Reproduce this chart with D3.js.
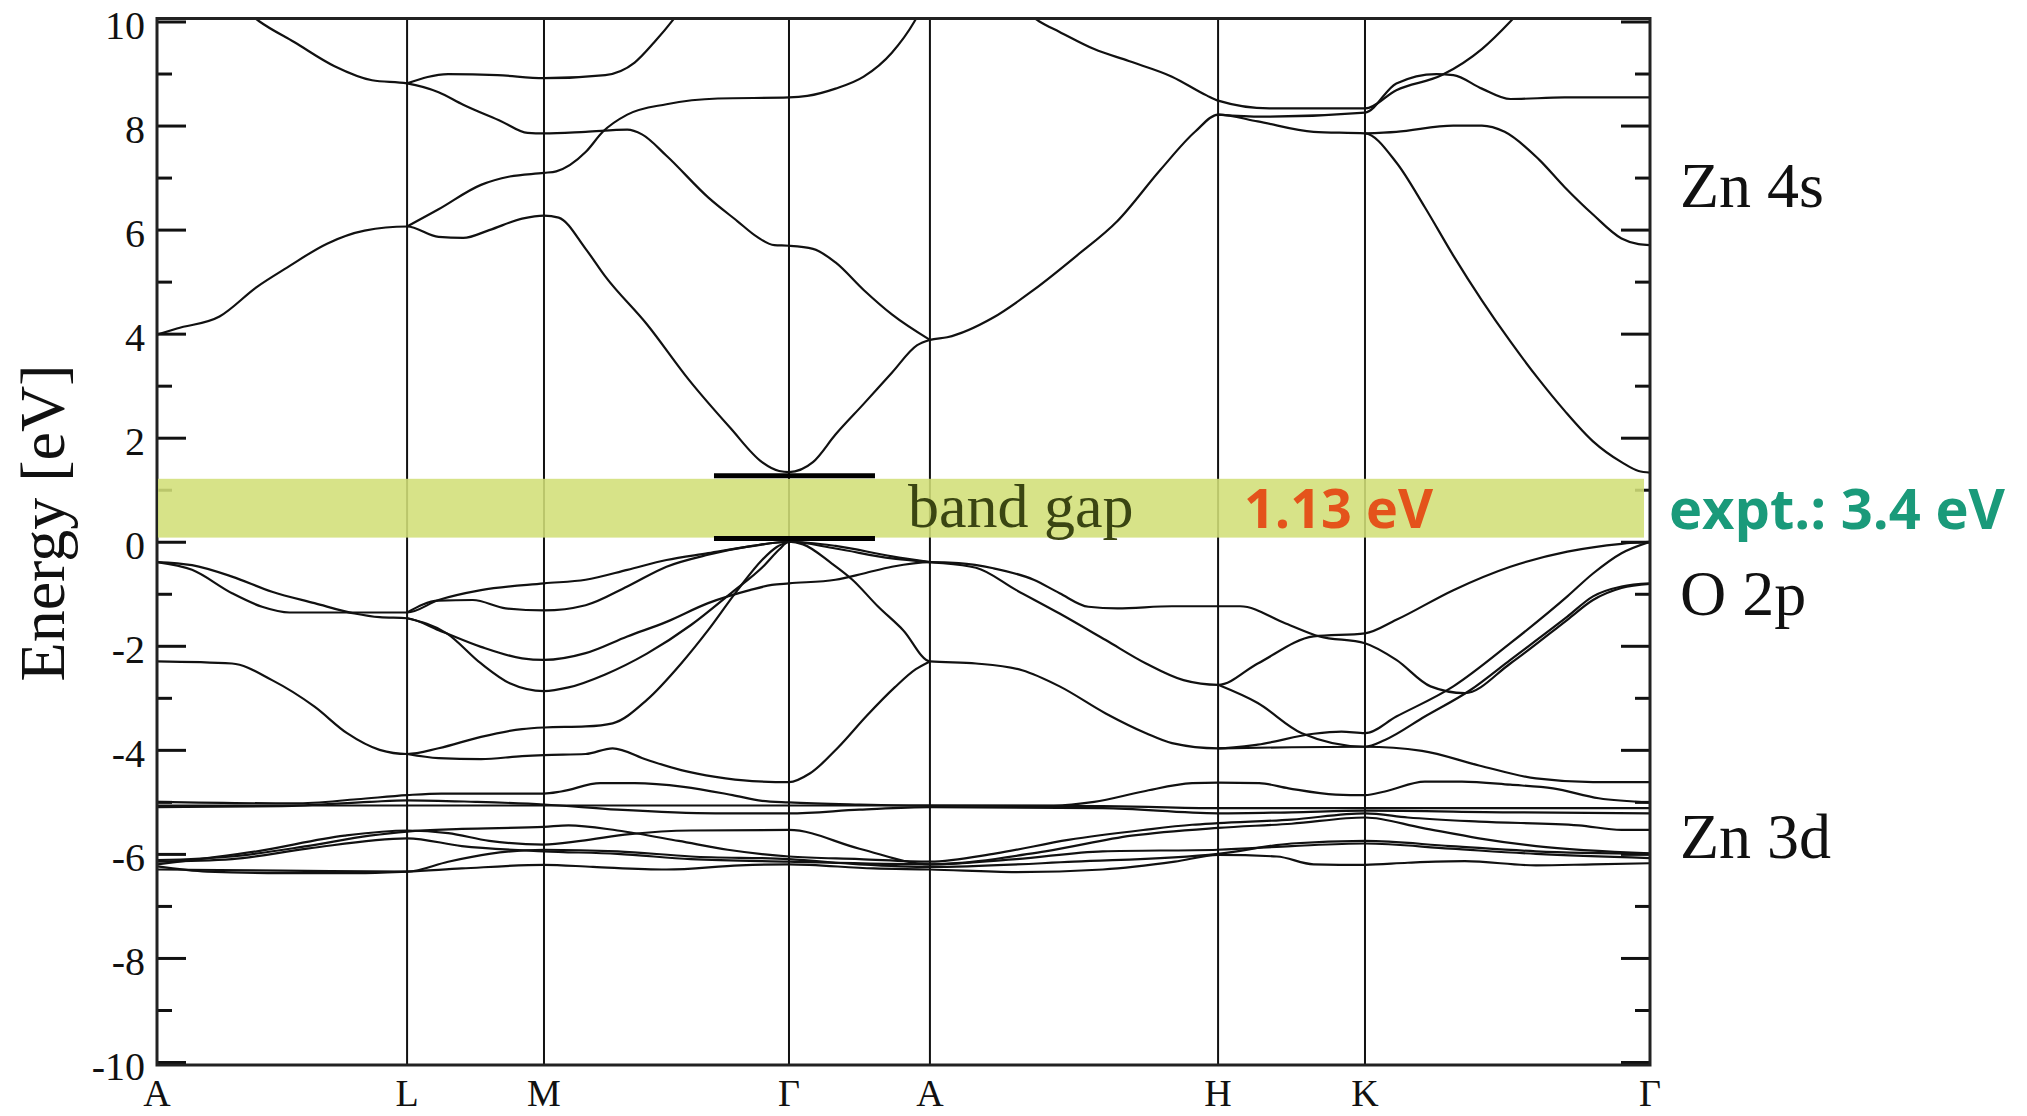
<!DOCTYPE html>
<html>
<head>
<meta charset="utf-8">
<script src="https://cdn.jsdelivr.net/npm/d3@7"></script>
<style>
  html, body { margin: 0; padding: 0; background: #fff; }
  svg { display: block; }
</style>
</head>
<body>
<svg id="chart" width="2027" height="1116"></svg>
<script>
// ---- path through the Brillouin zone -------------------------------------
const kLabels   = ["A", "L", "M", "Γ", "A", "H", "K", "Γ"];
// cumulative path length at each high-symmetry point (normalised)
const kDistance = [0, 0.1675, 0.2592, 0.4233, 0.5177, 0.7107, 0.8091, 1.0];

// ---- energy axis -----------------------------------------------------------
const energyTicks = [-10, -8, -6, -4, -2, 0, 2, 4, 6, 8, 10];
const minorTicks  = [-9, -7, -5, -3, -1, 1, 3, 5, 7, 9];

// ---- band gap annotation ---------------------------------------------------
const gapBase  = 0.08;   // eV, lower edge of the gap marker
const bandGap  = 1.13;   // eV, calculated
const exptGap  = 3.4;    // eV, experiment

// ---- orbital character labels ----------------------------------------------
const orbitalLabels = [
  { text: "Zn 4s", energy: 6.86 },
  { text: "O 2p",  energy: -0.98 },
  { text: "Zn 3d", energy: -5.65 }
];

// Band points: [path coordinate, energy in eV]; the path coordinate is the
// segment index plus the fraction along that segment (0 = A, 1 = L, 2 = M ...)
const conductionBands = [
  [[0,3.98],[0.08,4.1],[0.25,4.33],[0.4,4.9],[0.52,5.27],[0.68,5.73],[0.83,5.98],[1,6.06],
   [1.23,5.86],[1.41,5.84],[1.6,5.99],[1.84,6.21],[2,6.27],[2.06,6.23],[2.17,5.63],[2.25,5.1],
   [2.42,4.18],[2.59,3.12],[2.76,2.19],[2.89,1.53],[2.96,1.36],[3,1.34],[3.17,1.53],[3.33,2.06],
   [3.53,2.65],[3.73,3.25],[3.91,3.78],[4,3.88],[4.06,3.93],[4.22,4.31],[4.36,4.84],[4.51,5.5],
   [4.65,6.16],[4.8,7.15],[4.92,7.88],[5,8.21],[5.27,8.08],[5.65,7.88],[6,7.85],[6.11,7.29],
   [6.21,6.43],[6.31,5.5],[6.41,4.64],[6.51,3.85],[6.61,3.12],[6.7,2.52],[6.8,1.93],[6.9,1.53],
   [6.96,1.36],[7,1.33]],
  [[1,6.06],[1.23,6.39],[1.54,6.86],[1.75,7.02],[2,7.09],[2.05,7.12],[2.17,7.49],[2.24,7.88],
   [2.34,8.21],[2.5,8.41],[2.71,8.52],[3,8.54],[3.13,8.57],[3.33,8.71],[3.53,8.94],[3.73,9.4],
   [3.89,10.0],[3.95,10.3]],
  [[0.33,10.3],[0.41,10.0],[0.55,9.6],[0.71,9.14],[0.86,8.87],[1,8.81],[1.23,8.64],[1.41,8.4],
   [1.69,8.08],[1.88,7.86],[2,7.85],[2.17,7.88],[2.34,7.92],[2.4,7.83],[2.5,7.42],[2.67,6.62],
   [2.79,6.16],[2.87,5.86],[2.94,5.7],[3,5.69],[3.17,5.63],[3.33,5.37],[3.53,4.84],[3.73,4.37],
   [4,3.88]],
  [[4.3,10.35],[4.38,10.0],[4.45,9.8],[4.57,9.47],[4.69,9.24],[4.84,8.94],[4.96,8.58],[5,8.48],
   [5.35,8.33],[6,8.33],[6.11,8.68],[6.27,8.97],[6.41,9.47],[6.51,10.0],[6.56,10.3]],
  [[5,8.21],[5.3,8.17],[6,8.25],[6.11,8.81],[6.25,8.99],[6.31,8.97],[6.41,8.71],[6.51,8.51],
   [6.7,8.54],[7,8.54]],
  [[6,7.85],[6.11,7.88],[6.31,8.0],[6.41,8.0],[6.49,7.88],[6.61,7.35],[6.7,6.82],[6.8,6.29],
   [6.9,5.83],[6.96,5.72],[7,5.7]],
  [[1,8.81],[1.3,8.99],[1.66,8.97],[2,8.91],[2.25,8.97],[2.37,9.21],[2.45,9.6],[2.53,10.05],
   [2.57,10.3]]
];

const valenceBands = [
  [[0,-0.39],[0.14,-0.45],[0.3,-0.67],[0.46,-0.96],[0.63,-1.18],[0.79,-1.38],[0.89,-1.45],[1,-1.47],
   [1.23,-1.7],[1.54,-2.02],[1.84,-2.24],[2,-2.27],[2.17,-2.14],[2.34,-1.82],[2.5,-1.54],[2.67,-1.18],
   [2.84,-0.93],[2.93,-0.83],[3,-0.8],[3.33,-0.73],[3.53,-0.61],[3.73,-0.48],[4,-0.39],[4.1,-0.41],
   [4.22,-0.51],[4.36,-0.73],[4.45,-0.99],[4.55,-1.25],[4.65,-1.28],[4.84,-1.24],[5,-1.24],[5.15,-1.24],
   [5.46,-1.57],[5.69,-1.82],[6,-1.95],[6.11,-2.27],[6.23,-2.78],[6.35,-2.91],[6.51,-2.34],[6.71,-1.5],
   [6.8,-1.12],[6.9,-0.89],[7,-0.81]],
  [[0,-0.39],[0.14,-0.54],[0.3,-0.99],[0.42,-1.25],[0.53,-1.36],[0.71,-1.36],[1,-1.36],[1.23,-1.12],
   [1.54,-0.93],[2,-0.8],[2.17,-0.73],[2.34,-0.54],[2.5,-0.35],[2.67,-0.22],[2.84,-0.09],[3,0],
   [3.33,-0.13],[3.73,-0.32],[4,-0.39],[4.16,-0.5],[4.3,-0.93],[4.45,-1.38],[4.61,-1.89],[4.75,-2.34],
   [4.88,-2.66],[5,-2.75],[5.27,-2.34],[5.65,-1.82],[6,-1.76],[6.11,-1.5],[6.31,-0.93],[6.51,-0.48],
   [6.71,-0.19],[6.9,-0.04],[7,0]],
  [[1,-1.36],[1.23,-1.13],[1.48,-1.12],[1.72,-1.28],[2,-1.32],[2.17,-1.22],[2.34,-0.86],[2.5,-0.48],
   [2.67,-0.25],[2.85,-0.08],[3,0],[3.33,-0.08],[3.73,-0.28],[4,-0.39]],
  [[1,-1.47],[1.29,-1.76],[1.54,-2.34],[1.75,-2.72],[2,-2.87],[2.1,-2.8],[2.25,-2.55],[2.42,-2.15],
   [2.6,-1.6],[2.76,-1.0],[2.9,-0.45],[2.96,-0.15],[3,0],[3.1,-0.05],[3.3,-0.41],[3.45,-0.73],
   [3.63,-1.24],[3.81,-1.7],[4,-2.3],[4.16,-2.34],[4.32,-2.47],[4.45,-2.78],[4.61,-3.3],[4.75,-3.68],
   [4.84,-3.87],[5,-3.97],[5.27,-3.9],[5.65,-3.69],[5.84,-3.65],[6,-3.68],[6.11,-3.36],[6.31,-2.78],
   [6.51,-1.95],[6.71,-1.05],[6.8,-0.61],[6.9,-0.22],[7,0]],
  [[0,-2.3],[0.3,-2.34],[0.46,-2.66],[0.63,-3.17],[0.76,-3.68],[0.89,-4.0],[1,-4.08],[1.23,-3.97],
   [1.54,-3.75],[1.84,-3.6],[2,-3.57],[2.17,-3.55],[2.28,-3.49],[2.42,-3.04],[2.56,-2.34],[2.67,-1.7],
   [2.79,-0.93],[2.89,-0.35],[2.95,-0.1],[3,0]],
  [[1,-4.08],[1.23,-4.16],[1.54,-4.18],[1.84,-4.12],[2,-4.1],[2.17,-4.08],[2.28,-3.97],[2.42,-4.19],
   [2.56,-4.39],[2.7,-4.52],[2.85,-4.6],[3,-4.62],[3.15,-4.45],[3.35,-3.95],[3.55,-3.35],[3.75,-2.8],
   [3.9,-2.45],[4,-2.3]],
  [[5,-2.75],[5.27,-3.1],[5.57,-3.68],[6,-3.94],[6.07,-3.81],[6.21,-3.36],[6.37,-2.85],[6.51,-2.27],
   [6.71,-1.44],[6.8,-1.05],[6.9,-0.86],[7,-0.8]],
  [[5,-3.97],[5.5,-3.95],[6,-3.94],[6.2,-4.02],[6.4,-4.3],[6.6,-4.55],[6.8,-4.62],[7,-4.62]]
];

const dBands = [
  [[0,-5.0],[0.55,-5.03],[0.8,-4.95],[1,-4.87],[1.25,-4.84],[2,-4.84],[2.07,-4.8],[2.23,-4.64],
   [2.37,-4.64],[2.57,-4.71],[2.77,-4.87],[2.89,-4.98],[3,-5.01],[3.5,-5.05],[4,-5.07],[4.43,-5.07],
   [4.57,-5.0],[4.74,-4.8],[4.91,-4.64],[5,-4.63],[5.28,-4.64],[5.48,-4.74],[5.8,-4.86],[6,-4.87],
   [6.07,-4.8],[6.21,-4.61],[6.34,-4.61],[6.51,-4.67],[6.66,-4.74],[6.82,-4.93],[7,-5.01]],
  [[0,-5.07],[1,-5.07],[2,-5.07],[3,-5.07],[4,-5.07],[4.6,-5.08],[5,-5.12],[6,-5.12],[7,-5.12]],
  [[0,-5.1],[0.5,-5.08],[0.85,-5.0],[1,-4.97],[1.5,-5.0],[2,-5.05],[2.3,-5.15],[2.7,-5.22],[3,-5.22],
   [3.5,-5.15],[4,-5.1],[4.6,-5.12],[5,-5.22],[5.5,-5.2],[6,-5.17],[6.5,-5.2],[7,-5.22]],
  [[0,-6.12],[0.3,-6.05],[0.6,-5.85],[0.85,-5.65],[1,-5.57],[1.4,-5.52],[2,-5.48],[2.1,-5.45],
   [2.3,-5.55],[2.55,-5.75],[2.75,-5.92],[3,-6.05],[3.5,-6.1],[4,-6.15],[4.23,-5.99],[4.48,-5.73],
   [4.74,-5.54],[4.91,-5.44],[5,-5.41],[5.5,-5.34],[6,-5.22],[6.15,-5.3],[6.4,-5.38],[6.75,-5.45],
   [6.9,-5.54],[7,-5.54]],
  [[0,-6.15],[0.3,-6.1],[0.6,-5.9],[1,-5.7],[1.4,-5.85],[2,-5.95],[2.3,-6.0],[2.6,-6.1],[3,-6.15],
   [4,-6.2],[4.3,-6.1],[4.6,-5.95],[5,-5.92],[5.5,-5.85],[6,-5.8],[6.3,-5.9],[6.6,-6.0],[7,-6.08]],
  [[0,-6.24],[0.2,-6.34],[0.5,-6.37],[0.8,-6.37],[1,-6.34],[1.4,-6.28],[2,-6.21],[2.2,-6.25],
   [2.5,-6.3],[2.8,-6.22],[3,-6.2],[3.6,-6.28],[4,-6.3],[4.3,-6.35],[4.6,-6.3],[4.85,-6.15],[5,-6.02],
   [5.4,-6.05],[5.65,-6.2],[6,-6.21],[6.15,-6.17],[6.35,-6.14],[6.6,-6.22],[6.8,-6.2],[7,-6.18]],
  [[0,-6.2],[0.4,-5.95],[0.75,-5.65],[1,-5.55],[1.3,-5.6],[1.6,-5.75],[2,-5.82],[2.15,-5.75],
   [2.35,-5.62],[2.6,-5.55],[3,-5.54],[3.5,-5.9],[4,-6.2],[4.4,-5.95],[4.7,-5.65],[5,-5.5],[5.5,-5.42],
   [6,-5.3],[6.2,-5.5],[6.4,-5.7],[6.6,-5.85],[7,-5.99]],
  [[0,-6.3],[0.5,-6.32],[1,-6.34],[1.3,-6.15],[1.6,-6.0],[2,-5.92],[2.3,-5.95],[2.6,-6.05],[3,-6.1],
   [3.5,-6.2],[4,-6.25],[4.5,-6.15],[5,-6.0],[5.5,-5.8],[6,-5.75],[6.3,-5.85],[6.6,-5.95],[7,-6.0]]
];

// ---- scales ---------------------------------------------------------------
const svg = d3.select("#chart");
const plot = { left: 157, right: 1650, top: 21.5, bottom: 1062 };

const x = d3.scaleLinear().domain([0, 1]).range([plot.left, plot.right]);
const y = d3.scaleLinear().domain([-10, 10]).range([plot.bottom, plot.top]);
// segment coordinate -> cumulative path length
const pathPos = d3.scaleLinear().domain(d3.range(kDistance.length)).range(kDistance);
const kx = s => x(pathPos(s));

const frameTop = y(10) - 3, frameBottom = y(-10) + 3;

svg.append("rect").attr("width", 2027).attr("height", 1116).attr("fill", "#fff");

svg.append("defs").append("clipPath").attr("id", "plot-clip")
  .append("rect")
  .attr("x", plot.left).attr("y", frameTop)
  .attr("width", plot.right - plot.left).attr("height", frameBottom - frameTop);

// ---- vertical lines at the high-symmetry points ---------------------------
svg.append("g")
  .selectAll("line")
  .data(kDistance.slice(1, -1))
  .join("line")
  .attr("x1", d => x(d)).attr("x2", d => x(d))
  .attr("y1", frameTop).attr("y2", frameBottom)
  .attr("stroke", "#111").attr("stroke-width", 2);

// ---- band structure -------------------------------------------------------
const bandLine = d3.line()
  .x(d => kx(d[0]))
  .y(d => y(d[1]))
  .curve(d3.curveMonotoneX);

svg.append("g")
  .attr("clip-path", "url(#plot-clip)")
  .selectAll("path")
  .data([...conductionBands, ...valenceBands, ...dBands])
  .join("path")
  .attr("d", bandLine)
  .attr("fill", "none")
  .attr("stroke", "#111")
  .attr("stroke-width", 2.2)
  .attr("stroke-linejoin", "round");

// ---- axis ticks (inward, both sides) ---------------------------------------
function ticks(axisFn, values, size, xPos) {
  const g = svg.append("g")
    .attr("transform", `translate(${xPos},0)`)
    .call(axisFn(y).tickValues(values).tickSize(size).tickFormat(""));
  g.select(".domain").remove();
  g.selectAll(".tick line").attr("stroke", "#111").attr("stroke-width", 3);
}
ticks(d3.axisRight, energyTicks, 29, plot.left);
ticks(d3.axisRight, minorTicks, 15, plot.left);
ticks(d3.axisLeft, energyTicks, 29, plot.right);
ticks(d3.axisLeft, minorTicks, 15, plot.right);

// ---- frame -----------------------------------------------------------------
svg.append("rect")
  .attr("x", plot.left).attr("y", frameTop)
  .attr("width", plot.right - plot.left).attr("height", frameBottom - frameTop)
  .attr("fill", "none").attr("stroke", "#222").attr("stroke-width", 3);

// ---- tick labels -----------------------------------------------------------
const serif = "'Liberation Serif', 'Times New Roman', Times, serif";

svg.append("g")
  .selectAll("text")
  .data(energyTicks)
  .join("text")
  .attr("x", plot.left - 12)
  .attr("y", d => y(d) + 17.5)
  .attr("text-anchor", "end")
  .attr("font-family", serif).attr("font-size", 40)
  .attr("fill", "#111")
  .text(d => String(d));

svg.append("g")
  .selectAll("text")
  .data(kLabels)
  .join("text")
  .attr("x", (d, i) => x(kDistance[i]))
  .attr("y", 1106)
  .attr("text-anchor", "middle")
  .attr("font-family", serif).attr("font-size", 38)
  .attr("fill", "#111")
  .text(d => d);

svg.append("text")
  .attr("transform", `translate(64, 523) rotate(-90)`)
  .attr("text-anchor", "middle")
  .attr("font-family", serif).attr("font-size", 64)
  .attr("fill", "#111")
  .text("Energy [eV]");

// ---- orbital character labels ---------------------------------------------
svg.append("g")
  .selectAll("text")
  .data(orbitalLabels)
  .join("text")
  .attr("x", 1680)
  .attr("y", d => y(d.energy) + 22)
  .attr("font-family", serif).attr("font-size", 64)
  .attr("fill", "#111")
  .text(d => d.text);

// ---- band gap marker -------------------------------------------------------
const gapTop = gapBase + bandGap;

svg.append("rect")
  .attr("x", plot.left + 1).attr("y", y(gapTop))
  .attr("width", 1644 - plot.left - 1).attr("height", y(gapBase) - y(gapTop))
  .attr("fill", "#d2df78").attr("opacity", 0.88);

const gammaX = x(kDistance[3]);
svg.append("g")
  .selectAll("line")
  .data([{ e: gapTop, dy: -3 }, { e: gapBase, dy: 1 }])
  .join("line")
  .attr("x1", gammaX - 75).attr("x2", gammaX + 86)
  .attr("y1", d => y(d.e) + d.dy).attr("y2", d => y(d.e) + d.dy)
  .attr("stroke", "#000").attr("stroke-width", 5);

svg.append("text")
  .attr("x", 908).attr("y", y(gapBase) - 11)
  .attr("font-family", serif).attr("font-size", 62)
  .attr("fill", "#3a4512")
  .text("band gap");

const sans = "'Open Sans', 'Noto Sans', sans-serif";
svg.append("text")
  .attr("x", 1244).attr("y", y(gapBase) - 10)
  .attr("font-family", sans).attr("font-weight", 700).attr("font-size", 54)
  .attr("textLength", 189).attr("lengthAdjust", "spacingAndGlyphs")
  .attr("fill", "#e4531b")
  .text(`${bandGap.toFixed(2)} eV`);

svg.append("text")
  .attr("x", 1669).attr("y", y(gapBase) - 9)
  .attr("font-family", sans).attr("font-weight", 700).attr("font-size", 56)
  .attr("textLength", 336).attr("lengthAdjust", "spacingAndGlyphs")
  .attr("fill", "#1a9a7a")
  .text(`expt.: ${exptGap} eV`);
</script>
</body>
</html>
